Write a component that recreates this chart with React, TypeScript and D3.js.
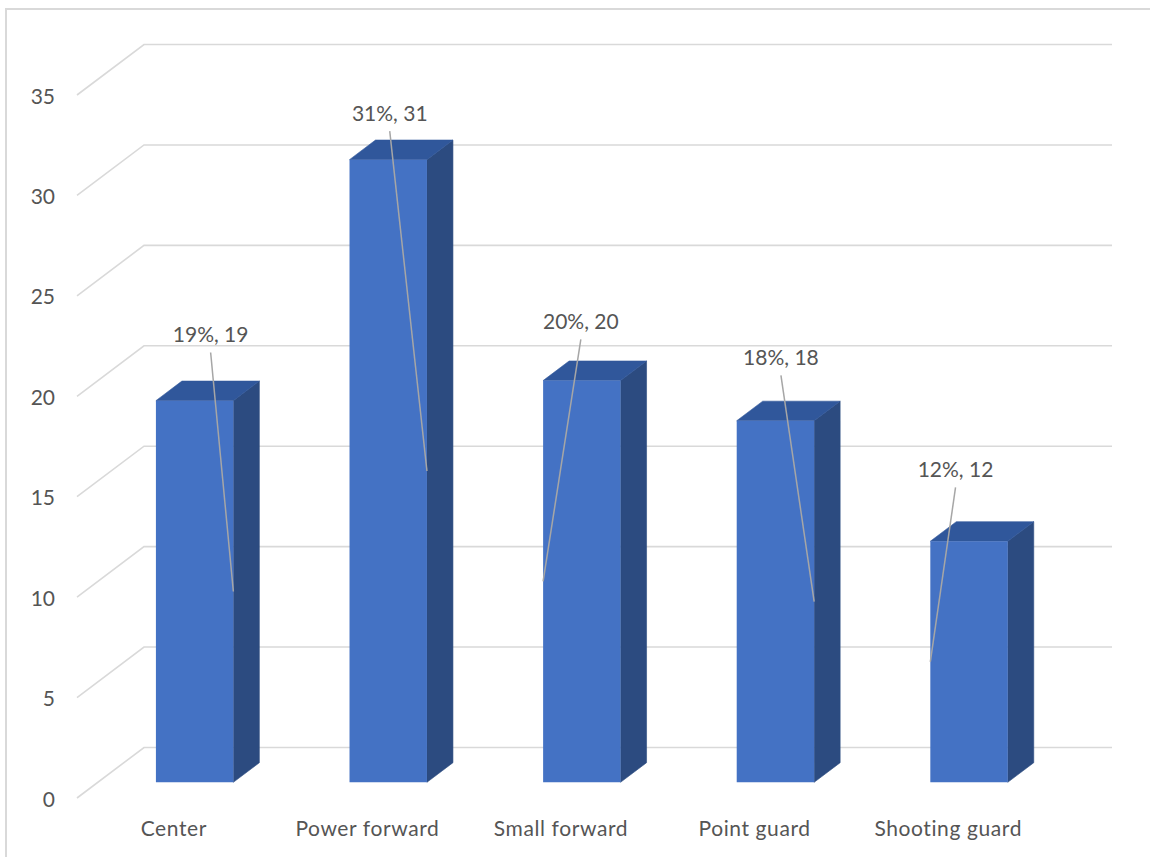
import React from "react";
import * as d3 from "d3";

// Player count by position
const positions = ["Center", "Power forward", "Small forward", "Point guard", "Shooting guard"];
const players = [19, 31, 20, 18, 12];
const yTicks = [0, 5, 10, 15, 20, 25, 30, 35];

// Hand-placed data label offsets (px) from the top-front centre of each column
const labelNudge: [number, number][] = [
  [16, -58.7],
  [1.5, -39],
  [-1, -51.6],
  [5.5, -55.8],
  [-13.5, -64.3],
];

const W = 1150;
const H = 857;

// Oblique projection of the 3D plot box
const FRONT_X = 77;
const PLOT_W = 968;
const DEPTH_DX = 67;
const DEPTH_DY = -50.5;
const BAR_FRONT = 0.311;
const BAR_BACK = 0.699;

const FONT = "Lato, 'Open Sans', sans-serif";
const TEXT = "#555555";
const GRID = "#d9d9d9";

export default function App() {
  // value -> y on the back wall
  const yBack = d3.scaleLinear().domain([0, 35]).range([747.5, 44.5]);
  const xBand = d3
    .scaleBand<string>()
    .domain(positions)
    .range([0, PLOT_W])
    .paddingInner(0.6)
    .paddingOuter(0.3);

  // project (x along category axis, value, depth 0=front..1=back)
  const proj = (x: number, v: number, d: number): [number, number] => [
    FRONT_X + x + d * DEPTH_DX,
    yBack(v) - (1 - d) * DEPTH_DY,
  ];
  const pts = (arr: [number, number][]) => arr.map((p) => p.join(",")).join(" ");

  const total = d3.sum(players);

  return (
    <svg
      width={W}
      height={H}
      style={{ position: "absolute", left: 0, top: 0, display: "block", background: "#fff" }}
    >
      <rect x={6} y={9} width={1300} height={1000} fill="#fff" stroke={GRID} strokeWidth={2} />

      {/* gridlines: floor-side diagonal plus back wall */}
      {yTicks.map((t) => {
        const f = proj(0, t, 0);
        const b = proj(0, t, 1);
        const e = proj(PLOT_W, t, 1);
        return (
          <polyline
            key={t}
            points={pts([f, b, e])}
            fill="none"
            stroke={GRID}
            strokeWidth={1.6}
          />
        );
      })}

      {/* y-axis tick labels */}
      {yTicks.map((t) => {
        const [, y] = proj(0, t, 0);
        return (
          <text
            key={"yl" + t}
            x={55}
            y={y + 8.5}
            textAnchor="end"
            fontFamily={FONT}
            fontSize={21}
            fill={TEXT}
          >
            {t}
          </text>
        );
      })}

      {/* category labels */}
      {positions.map((c) => {
        const cx = (xBand(c) as number) + xBand.bandwidth() / 2;
        const [x] = proj(cx, 0, 0);
        return (
          <text
            key={"xl" + c}
            x={x}
            y={836}
            textAnchor="middle"
            fontFamily={FONT}
            fontSize={21}
            letterSpacing={0.6}
            fill={TEXT}
          >
            {c}
          </text>
        );
      })}

      {/* columns */}
      {positions.map((c, i) => {
        const x0 = xBand(c) as number;
        const x1 = x0 + xBand.bandwidth();
        const v = players[i];
        const fbl = proj(x0, 0, BAR_FRONT);
        const ftl = proj(x0, v, BAR_FRONT);
        const ftr = proj(x1, v, BAR_FRONT);
        const fbr = proj(x1, 0, BAR_FRONT);
        const btl = proj(x0, v, BAR_BACK);
        const btr = proj(x1, v, BAR_BACK);
        const bbr = proj(x1, 0, BAR_BACK);
        return (
          <g key={"bar" + c} strokeWidth={0.6} strokeLinejoin="round">
            <polygon points={pts([fbr, ftr, btr, bbr])} fill="#2c4b80" stroke="#2c4b80" />
            <polygon points={pts([ftl, ftr, btr, btl])} fill="#30579b" stroke="#30579b" />
            <polygon points={pts([fbl, ftl, ftr, fbr])} fill="#4472c4" />
          </g>
        );
      })}

      {/* data labels with leader lines */}
      {positions.map((c, i) => {
        const x0 = xBand(c) as number;
        const x1 = x0 + xBand.bandwidth();
        const v = players[i];
        const [fl, top] = proj(x0, v, BAR_FRONT);
        const [fr] = proj(x1, v, BAR_FRONT);
        const [, mid] = proj(x0, v / 2, BAR_FRONT);
        const cx = (fl + fr) / 2;
        const lx = cx + labelNudge[i][0];
        const ly = top + labelNudge[i][1];
        const ex = lx >= cx ? fr : fl;
        const pct = Math.round((v / total) * 100);
        return (
          <g key={"lab" + c}>
            <line x1={lx} y1={ly + 10.5} x2={ex} y2={mid} stroke="#a6a6a6" strokeWidth={1.5} />
            <text
              x={lx}
              y={ly}
              textAnchor="middle"
              fontFamily={FONT}
              fontSize={21}
              fill={TEXT}
            >
              {`${pct}%, ${v}`}
            </text>
          </g>
        );
      })}
    </svg>
  );
}
